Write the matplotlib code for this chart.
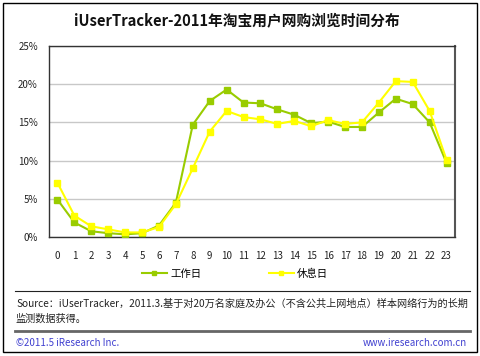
import matplotlib
matplotlib.use("Agg")
import matplotlib.pyplot as plt
from matplotlib.lines import Line2D
from matplotlib.patches import Rectangle

plt.rcParams['font.family'] = ['Noto Sans CJK SC', 'DejaVu Sans']

hours = [str(h) for h in range(24)]
workday = [4.9, 1.9, 0.75, 0.5, 0.35, 0.5, 1.5, 4.5, 14.7, 17.8, 19.3, 17.6,
           17.5, 16.7, 16.0, 14.9, 15.1, 14.4, 14.4, 16.3, 18.1, 17.4, 15.0, 9.7]
weekend = [7.1, 2.8, 1.4, 1.0, 0.6, 0.6, 1.3, 4.3, 9.0, 13.8, 16.5, 15.7,
           15.4, 14.8, 15.2, 14.5, 15.3, 14.8, 15.0, 17.6, 20.4, 20.3, 16.5, 10.1]
series_names = ["工作日", "休息日"]
yticks = [0, 5, 10, 15, 20, 25]

W, H = 480, 356
fig = plt.figure(figsize=(4.8, 3.56), dpi=100)
fig.patch.set_facecolor("white")

# outer frame
fig.patches.append(Rectangle((3 / W, 1 - 352 / H), 474 / W, 349 / H, fill=False,
                             edgecolor="#000000", lw=1, transform=fig.transFigure))

ax = fig.add_axes([49 / W, 1 - 237 / H, 406 / W, 191 / H])
x = list(range(len(hours)))
green = "#99CC00"
yellow = "#FFFF00"
ax.plot(x, workday, color=green, lw=1.5, marker="s", ms=5, zorder=3)
ax.plot(x, weekend, color=yellow, lw=1.5, marker="s", ms=5, zorder=4)

ax.set_xlim(-0.5, 23.5)
ax.set_ylim(0, 25)
ax.set_xticks(x)
ax.set_xticklabels(hours)
ax.set_yticks(yticks)
ax.set_yticklabels([f"{v}%" for v in yticks])
ax.tick_params(length=0, labelsize=7, colors="#222222", pad=8)
ax.tick_params(axis="x", pad=10)
ax.grid(axis="y", color="#c8c8c8", lw=1)
ax.set_axisbelow(True)
for s in ax.spines.values():
    s.set_color("#333333")
    s.set_linewidth(1)
ax.spines["right"].set_color("#555555")
ax.spines["right"].set_linewidth(1.5)

handles = [Line2D([], [], color=green, lw=1.5, marker="s", ms=3),
           Line2D([], [], color=yellow, lw=1.5, marker="s", ms=3)]
fig.legend(handles, series_names, loc="center", bbox_to_anchor=(235 / W, 1 - 274 / H),
           ncol=2, frameon=False, fontsize=7.5, handlelength=2.4,
           handletextpad=0.3, columnspacing=6.5)

fig.text(237 / W, 1 - 20 / H, "iUserTracker-2011年淘宝用户网购浏览时间分布",
         ha="center", va="center", fontsize=10.6, fontweight="bold", color="#111111")

# separators
fig.add_artist(Line2D([15 / W, 470 / W], [1 - 291 / H, 1 - 291 / H], color="#222222",
                      lw=0.8, transform=fig.transFigure))
fig.add_artist(Line2D([15 / W, 470 / W], [1 - 331 / H, 1 - 331 / H], color="#666666",
                      lw=2, transform=fig.transFigure))

fig.text(16 / W, 1 - 304 / H,
         "Source：iUserTracker，2011.3.基于对20万名家庭及办公（不含公共上网地点）样本网络行为的长期",
         ha="left", va="center", fontsize=7.3, color="#222222")
fig.text(16 / W, 1 - 319 / H, "监测数据获得。",
         ha="left", va="center", fontsize=7.3, color="#222222")
fig.text(16 / W, 1 - 343 / H, "©2011.5 iResearch Inc.",
         ha="left", va="center", fontsize=7, color="#4040D0")
fig.text(467 / W, 1 - 343 / H, "www.iresearch.com.cn",
         ha="right", va="center", fontsize=7, color="#4040D0")

fig.savefig("out.png", dpi=100)
